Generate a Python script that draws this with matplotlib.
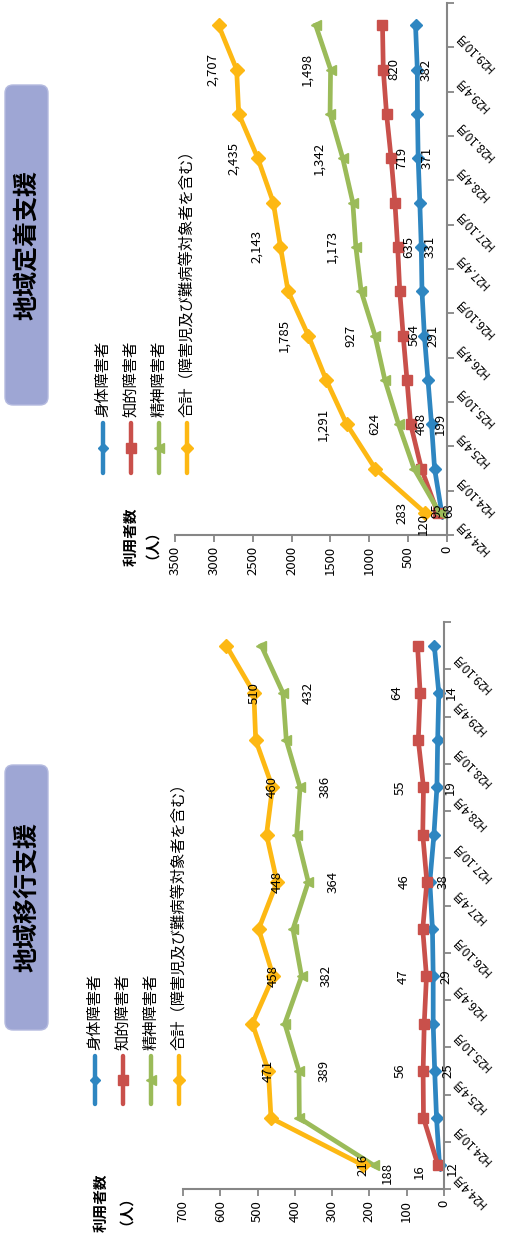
import numpy as np
import matplotlib
matplotlib.use('Agg')
import matplotlib.pyplot as plt
from matplotlib.lines import Line2D
from matplotlib.patches import FancyBboxPatch

plt.rcParams['font.family'] = ['Noto Sans CJK JP', 'DejaVu Sans']

categories = ['H24.4月', 'H24.10月', 'H25.4月', 'H25.10月', 'H26.4月', 'H26.10月',
              'H27.4月', 'H27.10月', 'H28.4月', 'H28.10月', 'H29.4月', 'H29.10月']
series_names = ['身体障害者', '知的障害者', '精神障害者', '合計（障害児及び難病等対象者を含む）']

# 地域定着支援
teichaku_shintai = [68, 160, 199, 245, 291, 322, 331, 350, 371, 380, 382, 405]
teichaku_chiteki = [120, 330, 468, 515, 564, 608, 635, 670, 719, 778, 820, 830]
teichaku_seishin = [95, 425, 624, 800, 927, 1105, 1173, 1212, 1342, 1505, 1498, 1690]
teichaku_total = [283, 925, 1291, 1555, 1785, 2045, 2143, 2235, 2435, 2680, 2707, 2940]

# 地域移行支援
ikou_shintai = [12, 20, 25, 29, 29, 31, 38, 27, 19, 17, 14, 26]
ikou_chiteki = [16, 55, 56, 53, 47, 57, 46, 57, 55, 69, 64, 71]
ikou_seishin = [188, 388, 389, 427, 382, 405, 364, 395, 386, 423, 432, 490]
ikou_total = [216, 464, 471, 514, 458, 497, 448, 476, 460, 505, 510, 584]

label_idx = [0, 2, 4, 6, 8, 10]

colors = ['#2E86C1', '#C9504B', '#9BBB59', '#FDB813']
markers = ['D', 's', '<', 'D']
msizes = [6, 7.5, 7.5, 7]

W, H = 509, 1236
fig = plt.figure(figsize=(W / 100, H / 100), dpi=100)


def fx(x):
    return x / W


def fy(y):
    return 1 - y / H


AX_COL = '#868686'


def draw(ax, series, vmax, vstep, offsets, first_offsets, fmt):
    y = np.arange(len(categories))
    for vals, color, marker, ms, off, foff in zip(series, colors, markers, msizes,
                                                  offsets, first_offsets):
        ax.plot(vals, y, color=color, lw=3.4, marker=marker, ms=ms,
                mfc=color, mec=color, solid_joinstyle='round', clip_on=False)
        for i in label_idx:
            xy_off = foff if i == 0 else (off, 0)
            ax.annotate(fmt(vals[i]), xy=(vals[i], y[i]), xytext=xy_off,
                        textcoords='offset pixels', rotation=90,
                        ha='center', va='center', fontsize=9.5)
    ax.set_xlim(vmax, 0)
    ax.set_ylim(-0.5, len(categories) - 0.5)
    ticks = np.arange(0, vmax + 1, vstep)
    ax.set_xticks(ticks)
    ax.set_xticklabels([str(t) for t in ticks], rotation=90, fontsize=9.5)
    ax.tick_params(axis='x', direction='out', length=5, color=AX_COL, width=1.3, pad=3)
    ax.yaxis.tick_right()
    ax.set_yticks(np.arange(-0.5, len(categories), 1))
    ax.set_yticklabels([])
    ax.tick_params(axis='y', direction='out', length=5, color=AX_COL, width=1.3)
    for s in ['top', 'left']:
        ax.spines[s].set_visible(False)
    for s in ['right', 'bottom']:
        ax.spines[s].set_color(AX_COL)
        ax.spines[s].set_linewidth(1.5)
    for i, lab in enumerate(categories):
        ax.annotate(lab, xy=(1, i), xycoords=('axes fraction', 'data'),
                    xytext=(10, -9), textcoords='offset pixels',
                    rotation=135, rotation_mode='anchor', ha='right', va='center',
                    fontsize=8.5)


# chart: 地域定着支援 (top)
ax2 = fig.add_axes([fx(175), fy(535), (447 - 175) / W, (535 - 3) / H])
draw(ax2, [teichaku_shintai, teichaku_chiteki, teichaku_seishin, teichaku_total],
     3500, 500, [9, 11, -24, -24],
     [(7, 2), (-14, -11), (-3, 2), (-23, 0)], lambda v: f'{v:,}')

# chart: 地域移行支援 (bottom)
ax1 = fig.add_axes([fx(183), fy(1189), (444 - 183) / W, (1189 - 622) / H])
draw(ax1, [ikou_shintai, ikou_chiteki, ikou_seishin, ikou_total],
     700, 100, [13, -23, 25, 0],
     [(13, -3), (-19, -6), (13, -8), (0, 0)], lambda v: f'{v}')


def legend(xs, y_top, y_bot):
    ym = (y_top + y_bot) / 2
    for x, name, color, marker, ms in zip(xs, series_names, colors, markers, msizes):
        fig.add_artist(Line2D([fx(x), fx(x)], [fy(y_top), fy(y_bot)], color=color, lw=3.2,
                              solid_capstyle='round', transform=fig.transFigure))
        fig.add_artist(Line2D([fx(x)], [fy(ym)], color=color, marker=marker, ms=ms - 0.5,
                              mfc=color, mec=color, lw=0, transform=fig.transFigure))
        fig.text(fx(x), fy(y_top - 6), name, rotation=90, rotation_mode='anchor',
                 ha='left', va='center', fontsize=11)


legend([103, 131, 159, 187], 423, 473)
legend([95, 123, 151, 179], 1056, 1104)

# axis titles (two lines drawn as two rotated texts)
for (x1, x2, yc) in [(130, 144, 537), (100, 118, 1203)]:
    fig.text(fx(x1), fy(yc), '利用者数', rotation=90, ha='center', va='center',
             fontsize=10.5, fontweight='bold')
    fig.text(fx(x2), fy(yc), '（人）', rotation=90, ha='center', va='center',
             fontsize=10.5, fontweight='bold')

# title boxes
for (y0, y1, title) in [(85, 405, '地域定着支援'), (765, 1030, '地域移行支援')]:
    box = FancyBboxPatch((5 / 100, (H - y1) / 100), 43 / 100, (y1 - y0) / 100,
                         boxstyle='round,pad=0,rounding_size=0.08',
                         transform=fig.dpi_scale_trans, facecolor='#9EA6D4',
                         edgecolor='#B4BADF', lw=1)
    fig.add_artist(box)
    fig.text(fx(27), fy((y0 + y1) / 2), title, rotation=90, ha='center', va='center',
             fontsize=18, fontweight='bold')

fig.savefig('out.png', dpi=100)
